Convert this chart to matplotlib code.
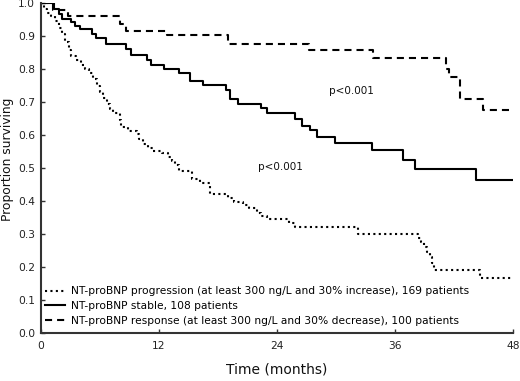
import matplotlib
matplotlib.use("Agg")
import matplotlib.pyplot as plt

# ---- data ----
prog_t = [0, 0.3, 0.6, 1.0, 1.4, 1.8, 2.1, 2.4, 2.8, 3.1, 3.6, 4.1, 4.5, 4.9, 5.3, 5.7,
          6.0, 6.3, 6.7, 7.0, 7.3, 8.0, 8.1, 8.8, 9.8, 10.0, 10.4, 10.9, 11.4, 12.3,
          12.9, 13.3, 13.6, 14.0, 15.4, 16.2, 17.2, 19.0, 19.6, 20.5, 21.2, 22.0, 22.4,
          23.0, 25.2, 25.8, 32.2, 38.3, 38.6, 38.9, 39.3, 39.6, 39.8, 40.0, 44.6, 48.0]
prog_s = [1.0, 0.982, 0.970, 0.960, 0.945, 0.925, 0.905, 0.882, 0.858, 0.841, 0.828,
          0.812, 0.800, 0.787, 0.770, 0.750, 0.730, 0.713, 0.695, 0.680, 0.668, 0.645,
          0.625, 0.612, 0.603, 0.588, 0.574, 0.562, 0.553, 0.546, 0.535, 0.522, 0.510,
          0.490, 0.468, 0.455, 0.423, 0.410, 0.398, 0.388, 0.378, 0.365, 0.355, 0.345,
          0.334, 0.322, 0.302, 0.290, 0.276, 0.262, 0.247, 0.231, 0.212, 0.193, 0.166,
          0.166]

stab_t = [0, 1.3, 1.8, 2.1, 3.0, 3.5, 4.0, 5.2, 5.6, 6.6, 8.6, 9.2, 10.8, 11.2, 12.5,
          14.0, 15.2, 16.5, 18.8, 19.2, 20.0, 22.4, 23.0, 25.8, 26.5, 27.4, 28.1, 29.9,
          33.7, 36.8, 38.0, 44.2, 48.0]
stab_s = [1.0, 0.982, 0.967, 0.953, 0.942, 0.931, 0.921, 0.906, 0.894, 0.876, 0.861,
          0.843, 0.826, 0.811, 0.800, 0.787, 0.765, 0.752, 0.737, 0.710, 0.695, 0.683,
          0.667, 0.650, 0.629, 0.614, 0.594, 0.576, 0.554, 0.526, 0.498, 0.465, 0.465]

resp_t = [0, 1.2, 2.7, 8.0, 8.6, 12.8, 19.0, 27.3, 33.8, 41.2, 41.5, 42.6, 44.9, 47.8]
resp_s = [1.0, 0.98, 0.96, 0.935, 0.914, 0.903, 0.876, 0.858, 0.834, 0.80, 0.775,
          0.710, 0.677, 0.677]

labels = ["NT-proBNP progression (at least 300 ng/L and 30% increase), 169 patients",
          "NT-proBNP stable, 108 patients",
          "NT-proBNP response (at least 300 ng/L and 30% decrease), 100 patients"]
x_ticks = [0, 12, 24, 36, 48]
y_ticks = [0.0, 0.1, 0.2, 0.3, 0.4, 0.5, 0.6, 0.7, 0.8, 0.9, 1.0]
p_text = "p<0.001"

plt.rcParams['font.family'] = ['DejaVu Sans']
fig = plt.figure(figsize=(5.2, 3.81), dpi=100)
ax = fig.add_axes([41/520, 1 - 333.3/381, 472/520, 330.3/381])

lw = 1.5
l1, = ax.step(prog_t, prog_s, where='post', color='black', lw=lw,
              linestyle=(0, (1, 1.6)), label=labels[0])
l2, = ax.step(stab_t, stab_s, where='post', color='black', lw=lw,
              linestyle='-', label=labels[1])
l3, = ax.step(resp_t, resp_s, where='post', color='black', lw=lw,
              linestyle=(0, (3.4, 2.4)), label=labels[2])

ax.set_xlim(0, 48)
ax.set_ylim(0, 1.0)
ax.set_xticks(x_ticks)
ax.set_xticklabels([str(v) for v in x_ticks])
ax.set_yticks(y_ticks)
ax.set_yticklabels([f"{v:.1f}" for v in y_ticks])

for s in ['top', 'right']:
    ax.spines[s].set_visible(False)
for s in ['left', 'bottom']:
    ax.spines[s].set_color('#333333')
    ax.spines[s].set_linewidth(1.5)

ax.tick_params(axis='both', direction='in', length=3, width=1, color='#333333',
               labelsize=7.7, labelcolor='#222222')
ax.tick_params(axis='y', pad=4.3)
ax.tick_params(axis='x', pad=5.8)

ax.set_xlabel("Time (months)", fontsize=10, color='#111111', labelpad=8)
ax.set_ylabel("Proportion surviving", fontsize=8.8, color='#111111')
ax.yaxis.set_label_coords(-0.058, 0.527)

ax.text(31.6, 0.735, p_text, fontsize=7.5, ha='center', va='center', color='#111111')
ax.text(24.3, 0.502, p_text, fontsize=7.5, ha='center', va='center', color='#111111')

ax.legend(handles=[l1, l2, l3], loc='lower left', bbox_to_anchor=(0.0085, 0.022),
          frameon=False, fontsize=7.7, borderpad=0, borderaxespad=0,
          handlelength=1.87, handletextpad=0.56, labelspacing=0.45)

fig.savefig("out.png", dpi=100)
